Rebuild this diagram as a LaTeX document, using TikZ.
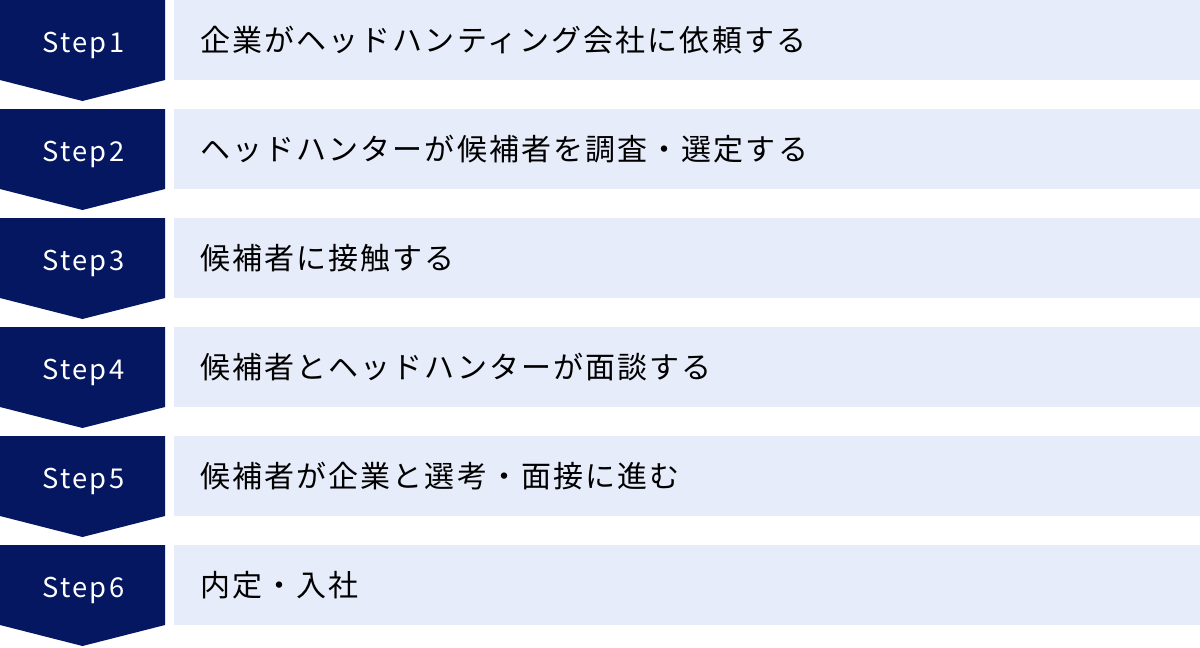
\documentclass[tikz,border=0pt]{standalone}
\usepackage{fontspec}
\setmainfont{Noto Sans CJK JP}
\usetikzlibrary{positioning}

\definecolor{stepnavy}{RGB}{4,23,96}
\definecolor{rowblue}{RGB}{230,236,249}

\tikzset{
  steplabel/.style={text=white, inner sep=0pt, anchor=base,
    font=\fontsize{20.5}{24}\selectfont\addfontfeature{LetterSpace=8}},
  rowlabel/.style={anchor=west, text=black, inner sep=0pt,
    font=\fontsize{22.5}{27}\selectfont\addfontfeature{LetterSpace=7}}
}

\begin{document}
\begin{tikzpicture}[x=0.75pt,y=-0.75pt]
    \useasboundingbox (0,0) rectangle (1200,647);

    % Steps
    \foreach \i/\txt in {1/企業がヘッドハンティング会社に依頼する,
                         2/ヘッドハンターが候補者を調査・選定する,
                         3/候補者に接触する,
                         4/候補者とヘッドハンターが面談する,
                         5/候補者が企業と選考・面接に進む,
                         6/内定・入社} {
        \pgfmathsetmacro\rowtop{(\i-1)*109}
        % chevron
        \fill[stepnavy] (0,\rowtop) -- (165,\rowtop) -- (165,\rowtop+80)
            -- (82.5,\rowtop+101) -- (0,\rowtop+80) -- cycle;
        % bar
        \fill[rowblue] (174,\rowtop) rectangle (1200,\rowtop+80);
        \node[steplabel] (step\i) at (83.5,\rowtop+52) {Step\i};
        \node[rowlabel] (text\i) at (200,\rowtop+40) {\txt};
    }
\end{tikzpicture}
\end{document}
